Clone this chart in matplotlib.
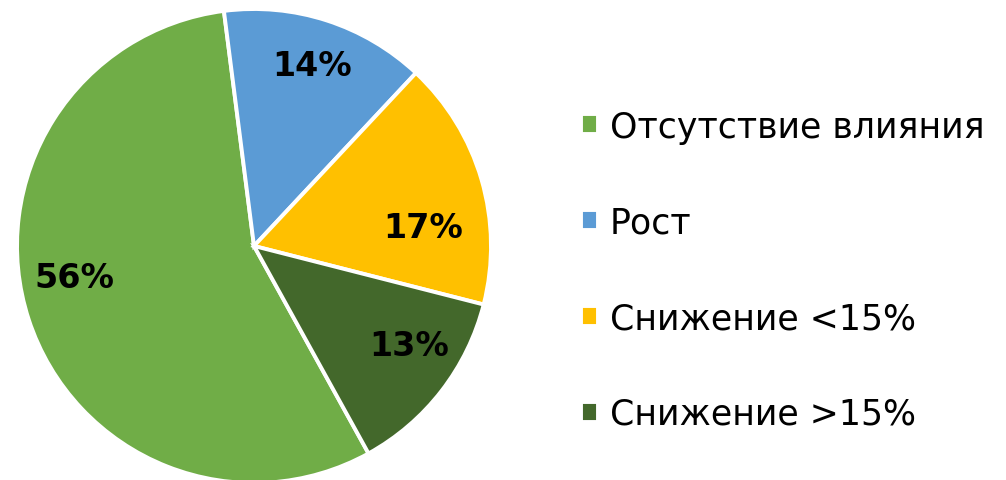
import numpy as np
import matplotlib.pyplot as plt

categories = ['Отсутствие влияния', 'Рост', 'Снижение <15%', 'Снижение >15%']
shares = [56, 14, 17, 13]
colors = ['#70AD47', '#5B9BD5', '#FFC000', '#43682B']

# shift of each percent label from the wedge middle, degrees (Excel best fit)
label_shift = [-8, 0, -10, 5]
label_dist = [0.77, 0.80, 0.72, 0.78]

fig = plt.figure(figsize=(10.06, 4.81), dpi=100)
ax = fig.add_axes([0.0169, -0.0062, 0.4712, 0.9854])

wedges, _ = ax.pie(shares, colors=colors, startangle=298.9, counterclock=False,
                   radius=1.0, wedgeprops=dict(edgecolor='white', linewidth=2.8))
ax.set_xlim(-1, 1)
ax.set_ylim(-1, 1)
ax.set_aspect('equal')

for w, v, sh, d in zip(wedges, shares, label_shift, label_dist):
    mid = np.deg2rad((w.theta1 + w.theta2) / 2 + sh)
    ax.text(d * np.cos(mid), d * np.sin(mid), f'{v}%', ha='center', va='center',
            fontsize=24, fontweight='bold', color='black')

leg = fig.legend(wedges, categories, loc='center left', bbox_to_anchor=(0.546, 0.436),
                 frameon=False, fontsize=25, handlelength=0.5, handleheight=0.5,
                 handletextpad=0.35, labelspacing=1.78)

fig.savefig('out.png', dpi=100)
